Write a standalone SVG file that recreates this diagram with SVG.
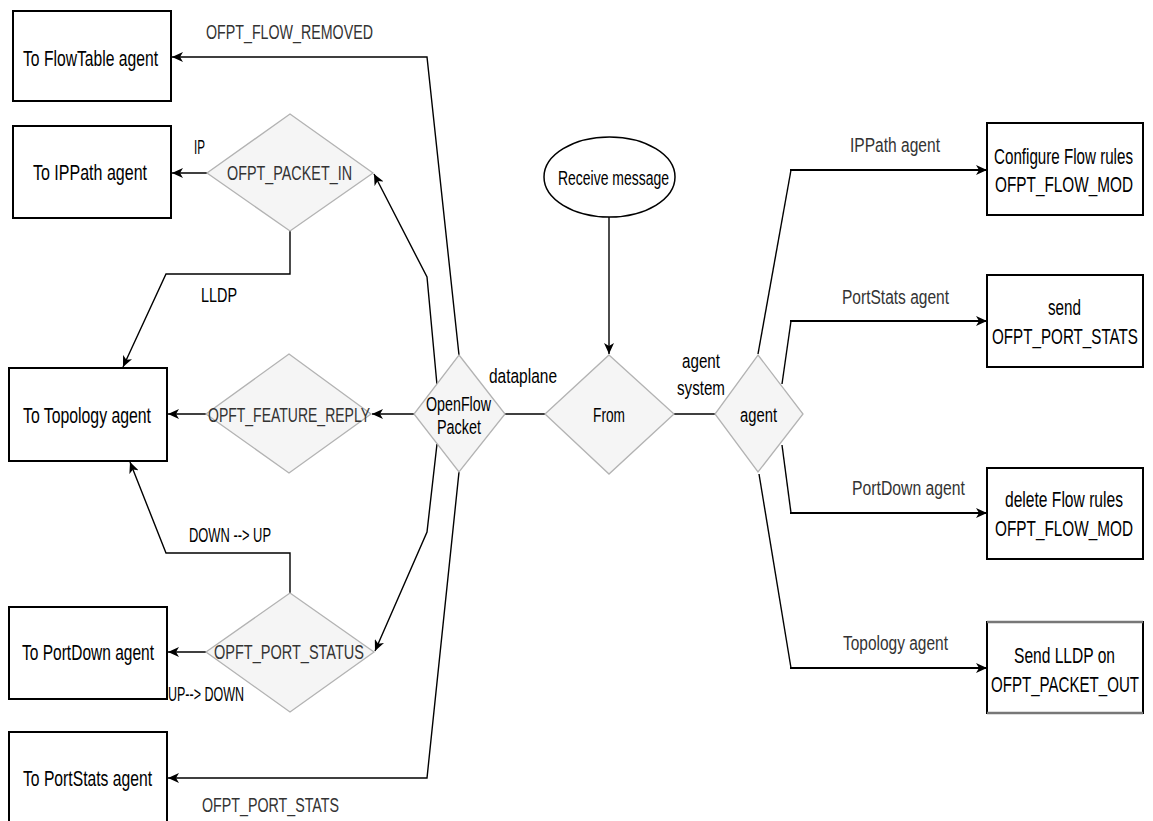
<svg xmlns="http://www.w3.org/2000/svg" width="1153" height="821" viewBox="0 0 1153 821">
  <style>
    text { font-family: "Liberation Sans", Arial, sans-serif; }
    .box { fill: #ffffff; stroke: #000000; stroke-width: 2; }
    .dia { fill: #f5f5f5; stroke: #b3b3b3; stroke-width: 1.3; }
    .ell { fill: #ffffff; stroke: #000000; stroke-width: 1.5; }
    .node-t { fill: #000000; font-size: 21.5px; }
    .dia-t { fill: #333333; font-size: 20.5px; }
    .lbl { fill: #333333; font-size: 20px; }
    .lbl-k { fill: #000000; font-size: 20.5px; }
    .edge { fill: none; stroke: #000000; stroke-width: 1.4; }
    .edge-b { fill: none; stroke: #000000; stroke-width: 2.2; }
  </style>
  <defs>
    <marker id="arrow" markerUnits="userSpaceOnUse" markerWidth="12" markerHeight="10" refX="11" refY="5" orient="auto">
      <path d="M0,0 L11,5 L0,10 L3,5 Z" fill="#000000"/>
    </marker>
  </defs>

  <rect width="1153" height="821" fill="#ffffff"/>

  <!-- connectors -->
  <g id="connectors">
    <!-- OpenFlow Packet branches -->
    <polyline class="edge" points="459,355 427,57 172,57" marker-end="url(#arrow)"/>
    <polyline class="edge" points="437,385 427,277 374,174" marker-end="url(#arrow)"/>
    <line class="edge" x1="414" y1="414" x2="372" y2="414" marker-end="url(#arrow)"/>
    <polyline class="edge" points="437,444 427,532 375,651" marker-end="url(#arrow)"/>
    <polyline class="edge" points="459,472 427,778 168,778" marker-end="url(#arrow)"/>

    <!-- decision outputs -->
    <line class="edge" x1="207" y1="173" x2="172" y2="173" marker-end="url(#arrow)"/>
    <polyline class="edge" points="290,231 290,274 166,274 123,367" marker-end="url(#arrow)"/>
    <line class="edge" x1="206" y1="414" x2="168" y2="414" marker-end="url(#arrow)"/>
    <polyline class="edge" points="290,593 290,553 166,553 130,462" marker-end="url(#arrow)"/>
    <line class="edge" x1="206" y1="652" x2="168" y2="652" marker-end="url(#arrow)"/>

    <!-- centre -->
    <line class="edge" x1="609" y1="217" x2="609" y2="354" marker-end="url(#arrow)"/>
    <line class="edge" x1="505" y1="414" x2="545" y2="414"/>
    <line class="edge" x1="674" y1="414" x2="715" y2="414"/>

    <!-- agent branches -->
    <polyline class="edge" points="758,354 791,170"/>
    <line class="edge-b" x1="790" y1="170" x2="987" y2="170" marker-end="url(#arrow)"/>
    <polyline class="edge" points="782,384 791,321"/>
    <line class="edge-b" x1="790" y1="321" x2="987" y2="321" marker-end="url(#arrow)"/>
    <polyline class="edge" points="782,445 791,513"/>
    <line class="edge-b" x1="790" y1="513" x2="987" y2="513" marker-end="url(#arrow)"/>
    <polyline class="edge" points="759,474 791,668"/>
    <line class="edge-b" x1="790" y1="668" x2="987" y2="668" marker-end="url(#arrow)"/>

    <!-- edge labels -->
    <text class="lbl" x="206" y="39" textLength="167" lengthAdjust="spacingAndGlyphs">OFPT_FLOW_REMOVED</text>
    <text class="lbl-k" x="194" y="154" font-size="22" textLength="11" lengthAdjust="spacingAndGlyphs">IP</text>
    <text class="lbl-k" x="201" y="302" textLength="36" lengthAdjust="spacingAndGlyphs">LLDP</text>
    <text class="lbl-k" x="189" y="542" textLength="82" lengthAdjust="spacingAndGlyphs">DOWN --&gt; UP</text>
    <text class="lbl-k" x="168" y="701" textLength="76" lengthAdjust="spacingAndGlyphs">UP--&gt; DOWN</text>
    <text class="lbl" x="202" y="812" textLength="137" lengthAdjust="spacingAndGlyphs">OFPT_PORT_STATS</text>
    <text class="lbl-k" x="489" y="383" textLength="68" lengthAdjust="spacingAndGlyphs">dataplane</text>
    <text class="lbl-k" x="682" y="368" textLength="38" lengthAdjust="spacingAndGlyphs">agent</text>
    <text class="lbl-k" x="677" y="395" textLength="48" lengthAdjust="spacingAndGlyphs">system</text>
    <text class="lbl" x="850" y="152" textLength="90" lengthAdjust="spacingAndGlyphs">IPPath agent</text>
    <text class="lbl" x="842" y="304" textLength="107" lengthAdjust="spacingAndGlyphs">PortStats agent</text>
    <text class="lbl" x="852" y="495" textLength="113" lengthAdjust="spacingAndGlyphs">PortDown agent</text>
    <text class="lbl" x="843" y="650" textLength="105" lengthAdjust="spacingAndGlyphs">Topology agent</text>
  </g>

  <!-- left target boxes -->
  <g id="flowtable-agent">
    <rect class="box" x="13" y="11" width="158" height="90"/>
    <text class="node-t" x="23" y="66" textLength="135" lengthAdjust="spacingAndGlyphs">To FlowTable agent</text>
  </g>
  <g id="ippath-agent">
    <rect class="box" x="13" y="126" width="158" height="92"/>
    <text class="node-t" x="33" y="180" textLength="114" lengthAdjust="spacingAndGlyphs">To IPPath agent</text>
  </g>
  <g id="topology-agent">
    <rect class="box" x="9" y="368" width="158" height="93"/>
    <text class="node-t" x="23" y="423" textLength="128" lengthAdjust="spacingAndGlyphs">To Topology agent</text>
  </g>
  <g id="portdown-agent">
    <rect class="box" x="9" y="607" width="158" height="92"/>
    <text class="node-t" x="22" y="660" textLength="132" lengthAdjust="spacingAndGlyphs">To PortDown agent</text>
  </g>
  <g id="portstats-agent">
    <rect class="box" x="9" y="732" width="158" height="100"/>
    <text class="node-t" x="23" y="786" textLength="129" lengthAdjust="spacingAndGlyphs">To PortStats agent</text>
  </g>

  <!-- message type decisions -->
  <g id="packet-in">
    <polygon class="dia" points="290,114 373,173 290,231 207,173"/>
    <text class="dia-t" x="227" y="180" textLength="125" lengthAdjust="spacingAndGlyphs">OFPT_PACKET_IN</text>
  </g>
  <g id="feature-reply">
    <polygon class="dia" points="289,354 371,414 289,473 206,414"/>
    <text class="dia-t" x="208" y="422" textLength="162" lengthAdjust="spacingAndGlyphs">OPFT_FEATURE_REPLY</text>
  </g>
  <g id="port-status">
    <polygon class="dia" points="290,593 374,652 290,712 206,652"/>
    <text class="dia-t" x="214" y="659" textLength="150" lengthAdjust="spacingAndGlyphs">OPFT_PORT_STATUS</text>
  </g>

  <!-- central flow -->
  <g id="openflow-packet">
    <polygon class="dia" points="459,355 505,414 459,472 414,414"/>
    <text class="lbl-k" x="426" y="411" textLength="65" lengthAdjust="spacingAndGlyphs">OpenFlow</text>
    <text class="lbl-k" x="437" y="434" textLength="44" lengthAdjust="spacingAndGlyphs">Packet</text>
  </g>
  <g id="receive-message">
    <ellipse class="ell" cx="609.5" cy="177" rx="65.5" ry="40"/>
    <text class="lbl-k" x="558" y="185" font-size="19.5" textLength="111" lengthAdjust="spacingAndGlyphs">Receive message</text>
  </g>
  <g id="from">
    <polygon class="dia" points="609,355 674,414 609,474 545,414"/>
    <text class="lbl-k" x="593" y="422" textLength="32" lengthAdjust="spacingAndGlyphs">From</text>
  </g>
  <g id="agent">
    <polygon class="dia" points="758,355 803,414 758,472 715,414"/>
    <text class="lbl-k" x="740" y="422" textLength="37" lengthAdjust="spacingAndGlyphs">agent</text>
  </g>

  <!-- right action boxes -->
  <g id="configure-flow">
    <rect class="box" x="987" y="123" width="156" height="92"/>
    <text class="node-t" x="994" y="164" textLength="139" lengthAdjust="spacingAndGlyphs">Configure Flow rules</text>
    <text class="node-t" x="995" y="192" textLength="138" lengthAdjust="spacingAndGlyphs">OFPT_FLOW_MOD</text>
  </g>
  <g id="send-port-stats">
    <rect class="box" x="987" y="275" width="156" height="92"/>
    <text class="node-t" x="1048" y="315" textLength="33" lengthAdjust="spacingAndGlyphs">send</text>
    <text class="node-t" x="992" y="344" textLength="146" lengthAdjust="spacingAndGlyphs">OFPT_PORT_STATS</text>
  </g>
  <g id="delete-flow">
    <rect class="box" x="987" y="468" width="156" height="91"/>
    <text class="node-t" x="1005" y="507" textLength="118" lengthAdjust="spacingAndGlyphs">delete Flow rules</text>
    <text class="node-t" x="995" y="536" textLength="138" lengthAdjust="spacingAndGlyphs">OFPT_FLOW_MOD</text>
  </g>
  <g id="send-lldp">
    <rect class="box" x="987" y="622" width="156" height="91"/>
    <line x1="987" y1="622" x2="1143" y2="622" stroke="#777777" stroke-width="2.5"/>
    <line x1="987" y1="713" x2="1143" y2="713" stroke="#777777" stroke-width="2.5"/>
    <text class="node-t" x="1014" y="663" textLength="101" lengthAdjust="spacingAndGlyphs">Send LLDP on</text>
    <text class="node-t" x="991" y="692" textLength="148" lengthAdjust="spacingAndGlyphs">OFPT_PACKET_OUT</text>
  </g>
</svg>
